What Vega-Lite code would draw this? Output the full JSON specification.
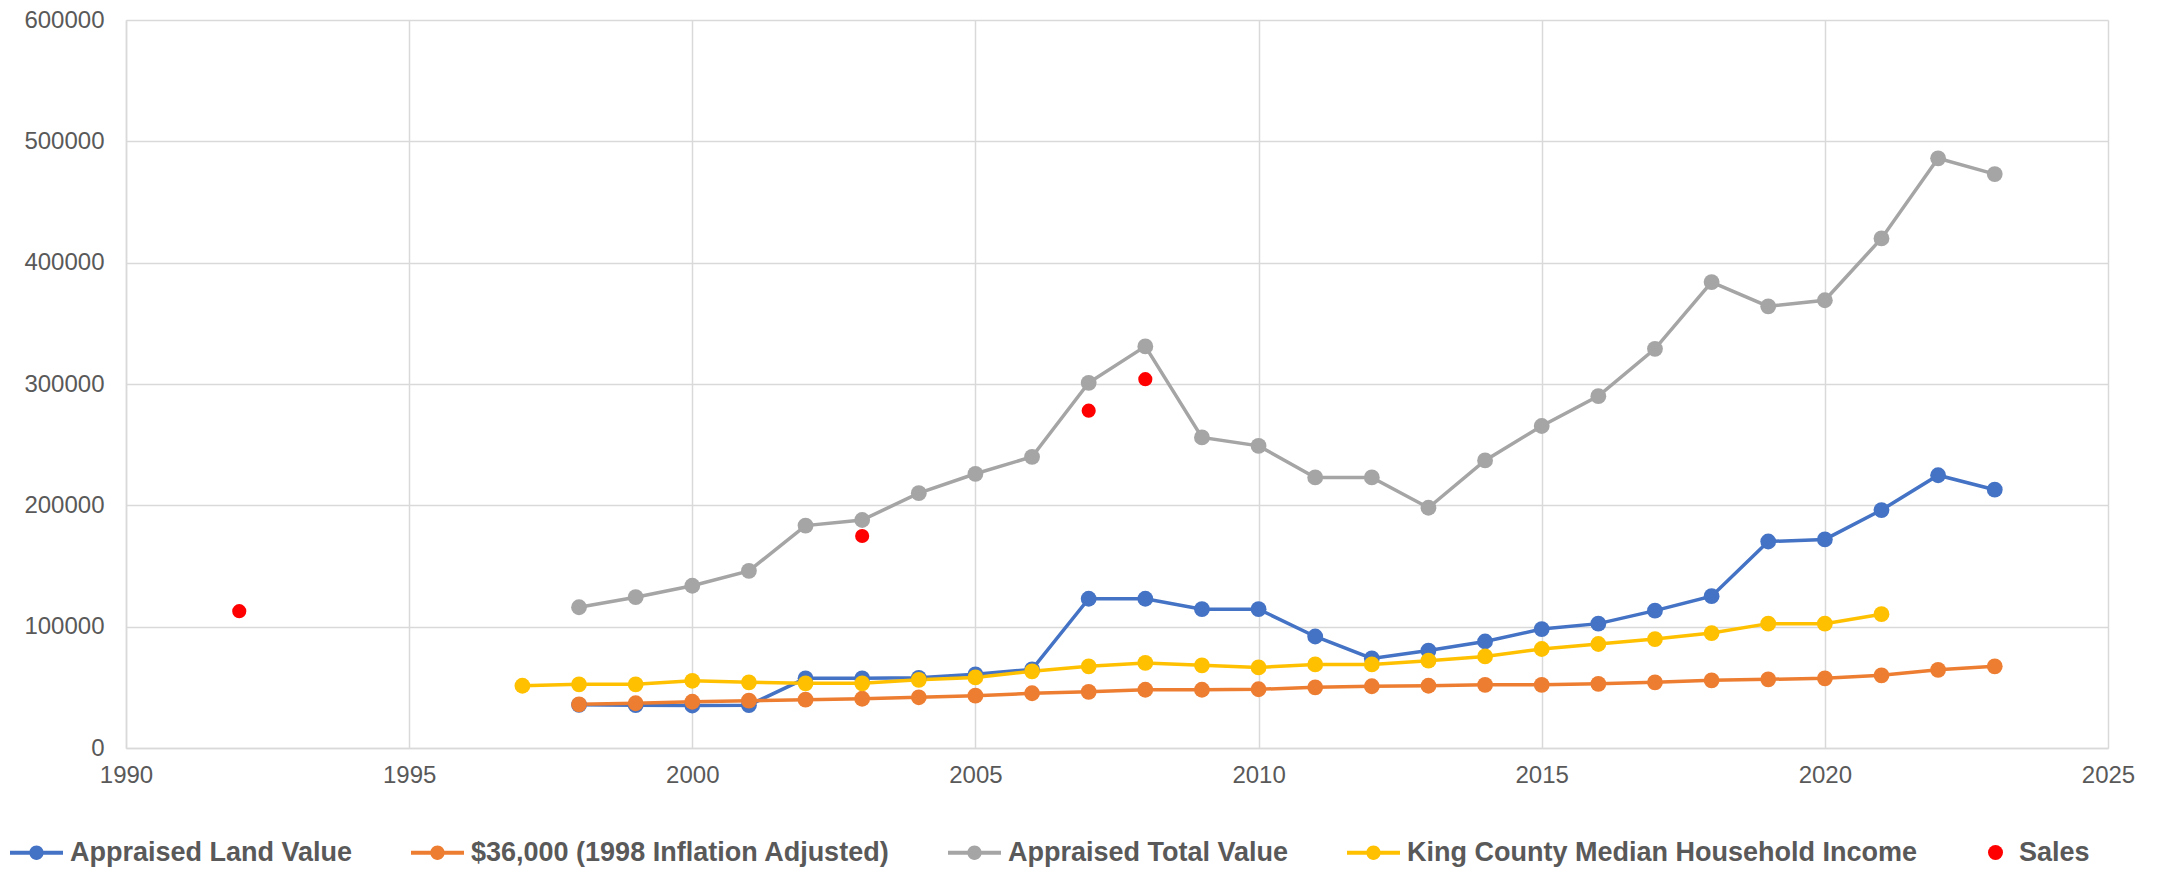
{
  "$schema": "https://vega.github.io/schema/vega-lite/v6.json",
  "width": 1982,
  "height": 728,
  "autosize": {"type": "none"},
  "padding": {"left": 126, "top": 20, "right": 51, "bottom": 121},
  "background": "white",
  "config": {
    "view": {"stroke": null},
    "font": "Liberation Sans",
    "axis": {
      "domainColor": "#D9D9D9",
      "domainWidth": 1.5,
      "gridColor": "#D9D9D9",
      "gridWidth": 1.5,
      "tickSize": 0,
      "labelColor": "#595959",
      "labelFontSize": 24,
      "labelFont": "Liberation Sans",
      "labelFlush": false,
      "title": null
    },
    "legend": {"padding": 0}
  },
  "datasets": {
    "series": [
      {"series": "Appraised Land Value", "year": 1998, "value": 35600},
      {"series": "Appraised Land Value", "year": 1999, "value": 35300},
      {"series": "Appraised Land Value", "year": 2000, "value": 35000},
      {"series": "Appraised Land Value", "year": 2001, "value": 35300},
      {"series": "Appraised Land Value", "year": 2002, "value": 57400},
      {"series": "Appraised Land Value", "year": 2003, "value": 57400},
      {"series": "Appraised Land Value", "year": 2004, "value": 57800},
      {"series": "Appraised Land Value", "year": 2005, "value": 60700},
      {"series": "Appraised Land Value", "year": 2006, "value": 64800},
      {"series": "Appraised Land Value", "year": 2007, "value": 123000},
      {"series": "Appraised Land Value", "year": 2008, "value": 123000},
      {"series": "Appraised Land Value", "year": 2009, "value": 114400},
      {"series": "Appraised Land Value", "year": 2010, "value": 114400},
      {"series": "Appraised Land Value", "year": 2011, "value": 91900},
      {"series": "Appraised Land Value", "year": 2012, "value": 73800},
      {"series": "Appraised Land Value", "year": 2013, "value": 80300},
      {"series": "Appraised Land Value", "year": 2014, "value": 87800},
      {"series": "Appraised Land Value", "year": 2015, "value": 98000},
      {"series": "Appraised Land Value", "year": 2016, "value": 102500},
      {"series": "Appraised Land Value", "year": 2017, "value": 113200},
      {"series": "Appraised Land Value", "year": 2018, "value": 125100},
      {"series": "Appraised Land Value", "year": 2019, "value": 170200},
      {"series": "Appraised Land Value", "year": 2020, "value": 171900},
      {"series": "Appraised Land Value", "year": 2021, "value": 196100},
      {"series": "Appraised Land Value", "year": 2022, "value": 224800},
      {"series": "Appraised Land Value", "year": 2023, "value": 212900},
      {"series": "$36,000 (1998 Inflation Adjusted)", "year": 1998, "value": 36000},
      {"series": "$36,000 (1998 Inflation Adjusted)", "year": 1999, "value": 36900},
      {"series": "$36,000 (1998 Inflation Adjusted)", "year": 2000, "value": 38100},
      {"series": "$36,000 (1998 Inflation Adjusted)", "year": 2001, "value": 39000},
      {"series": "$36,000 (1998 Inflation Adjusted)", "year": 2002, "value": 39800},
      {"series": "$36,000 (1998 Inflation Adjusted)", "year": 2003, "value": 40600},
      {"series": "$36,000 (1998 Inflation Adjusted)", "year": 2004, "value": 41800},
      {"series": "$36,000 (1998 Inflation Adjusted)", "year": 2005, "value": 43100},
      {"series": "$36,000 (1998 Inflation Adjusted)", "year": 2006, "value": 45100},
      {"series": "$36,000 (1998 Inflation Adjusted)", "year": 2007, "value": 46300},
      {"series": "$36,000 (1998 Inflation Adjusted)", "year": 2008, "value": 48000},
      {"series": "$36,000 (1998 Inflation Adjusted)", "year": 2009, "value": 48000},
      {"series": "$36,000 (1998 Inflation Adjusted)", "year": 2010, "value": 48400},
      {"series": "$36,000 (1998 Inflation Adjusted)", "year": 2011, "value": 50000},
      {"series": "$36,000 (1998 Inflation Adjusted)", "year": 2012, "value": 50900},
      {"series": "$36,000 (1998 Inflation Adjusted)", "year": 2013, "value": 51300},
      {"series": "$36,000 (1998 Inflation Adjusted)", "year": 2014, "value": 52100},
      {"series": "$36,000 (1998 Inflation Adjusted)", "year": 2015, "value": 52100},
      {"series": "$36,000 (1998 Inflation Adjusted)", "year": 2016, "value": 52900},
      {"series": "$36,000 (1998 Inflation Adjusted)", "year": 2017, "value": 54100},
      {"series": "$36,000 (1998 Inflation Adjusted)", "year": 2018, "value": 55800},
      {"series": "$36,000 (1998 Inflation Adjusted)", "year": 2019, "value": 56600},
      {"series": "$36,000 (1998 Inflation Adjusted)", "year": 2020, "value": 57400},
      {"series": "$36,000 (1998 Inflation Adjusted)", "year": 2021, "value": 59900},
      {"series": "$36,000 (1998 Inflation Adjusted)", "year": 2022, "value": 64400},
      {"series": "$36,000 (1998 Inflation Adjusted)", "year": 2023, "value": 67300},
      {"series": "Appraised Total Value", "year": 1998, "value": 116000},
      {"series": "Appraised Total Value", "year": 1999, "value": 124300},
      {"series": "Appraised Total Value", "year": 2000, "value": 133700},
      {"series": "Appraised Total Value", "year": 2001, "value": 146000},
      {"series": "Appraised Total Value", "year": 2002, "value": 183300},
      {"series": "Appraised Total Value", "year": 2003, "value": 187900},
      {"series": "Appraised Total Value", "year": 2004, "value": 210000},
      {"series": "Appraised Total Value", "year": 2005, "value": 226000},
      {"series": "Appraised Total Value", "year": 2006, "value": 240000},
      {"series": "Appraised Total Value", "year": 2007, "value": 301000},
      {"series": "Appraised Total Value", "year": 2008, "value": 331000},
      {"series": "Appraised Total Value", "year": 2009, "value": 256000},
      {"series": "Appraised Total Value", "year": 2010, "value": 249000},
      {"series": "Appraised Total Value", "year": 2011, "value": 223000},
      {"series": "Appraised Total Value", "year": 2012, "value": 223000},
      {"series": "Appraised Total Value", "year": 2013, "value": 198000},
      {"series": "Appraised Total Value", "year": 2014, "value": 237000},
      {"series": "Appraised Total Value", "year": 2015, "value": 265400},
      {"series": "Appraised Total Value", "year": 2016, "value": 290000},
      {"series": "Appraised Total Value", "year": 2017, "value": 329000},
      {"series": "Appraised Total Value", "year": 2018, "value": 384000},
      {"series": "Appraised Total Value", "year": 2019, "value": 364000},
      {"series": "Appraised Total Value", "year": 2020, "value": 369000},
      {"series": "Appraised Total Value", "year": 2021, "value": 420000},
      {"series": "Appraised Total Value", "year": 2022, "value": 486000},
      {"series": "Appraised Total Value", "year": 2023, "value": 473000},
      {"series": "King County Median Household Income", "year": 1997, "value": 51300},
      {"series": "King County Median Household Income", "year": 1998, "value": 52500},
      {"series": "King County Median Household Income", "year": 1999, "value": 52500},
      {"series": "King County Median Household Income", "year": 2000, "value": 55400},
      {"series": "King County Median Household Income", "year": 2001, "value": 54100},
      {"series": "King County Median Household Income", "year": 2002, "value": 53300},
      {"series": "King County Median Household Income", "year": 2003, "value": 53300},
      {"series": "King County Median Household Income", "year": 2004, "value": 56200},
      {"series": "King County Median Household Income", "year": 2005, "value": 58200},
      {"series": "King County Median Household Income", "year": 2006, "value": 63200},
      {"series": "King County Median Household Income", "year": 2007, "value": 67300},
      {"series": "King County Median Household Income", "year": 2008, "value": 70100},
      {"series": "King County Median Household Income", "year": 2009, "value": 68100},
      {"series": "King County Median Household Income", "year": 2010, "value": 66400},
      {"series": "King County Median Household Income", "year": 2011, "value": 68900},
      {"series": "King County Median Household Income", "year": 2012, "value": 68900},
      {"series": "King County Median Household Income", "year": 2013, "value": 72000},
      {"series": "King County Median Household Income", "year": 2014, "value": 75500},
      {"series": "King County Median Household Income", "year": 2015, "value": 81600},
      {"series": "King County Median Household Income", "year": 2016, "value": 85700},
      {"series": "King County Median Household Income", "year": 2017, "value": 89800},
      {"series": "King County Median Household Income", "year": 2018, "value": 94700},
      {"series": "King County Median Household Income", "year": 2019, "value": 102500},
      {"series": "King County Median Household Income", "year": 2020, "value": 102500},
      {"series": "King County Median Household Income", "year": 2021, "value": 110300}
    ],
    "sales": [
      {"series": "Sales", "year": 1992, "value": 112800},
      {"series": "Sales", "year": 2003, "value": 174700},
      {"series": "Sales", "year": 2007, "value": 278000},
      {"series": "Sales", "year": 2008, "value": 304000}
    ]
  },
  "encoding": {
    "x": {
      "field": "year",
      "type": "quantitative",
      "scale": {"domain": [1990, 2025], "nice": false, "zero": false},
      "axis": {"values": [1990, 1995, 2000, 2005, 2010, 2015, 2020, 2025], "format": "d", "labelPadding": 15}
    },
    "y": {
      "field": "value",
      "type": "quantitative",
      "scale": {"domain": [0, 600000], "nice": false},
      "axis": {"values": [0, 100000, 200000, 300000, 400000, 500000, 600000], "format": "d", "labelPadding": 22}
    }
  },
  "layer": [
    {
      "data": {"name": "series"},
      "mark": {"type": "line", "strokeWidth": 3.5},
      "encoding": {
        "color": {
          "field": "series",
          "type": "nominal",
          "sort": null,
          "scale": {
            "domain": ["Appraised Land Value", "$36,000 (1998 Inflation Adjusted)", "Appraised Total Value", "King County Median Household Income"],
            "range": ["#4472C4", "#ED7D31", "#A5A5A5", "#FFC000"]
          },
          "legend": {
            "title": null,
            "orient": "none",
            "direction": "horizontal",
            "columns": 4,
            "legendX": -116,
            "legendY": 806,
            "symbolType": "M-1,-0.075H1V0.075H-1Z M0.27,0A0.27,0.27,0,1,1,-0.27,0A0.27,0.27,0,1,1,0.27,0Z",
            "symbolSize": 2809,
            "symbolStrokeWidth": 0,
            "labelFont": "Liberation Sans",
            "labelFontSize": 27,
            "labelFontWeight": "bold",
            "labelColor": "#595959",
            "labelLimit": 0,
            "labelOffset": 7,
            "columnPadding": 58,
            "encode": {
              "symbols": {"update": {"fill": {"scale": "color", "field": "value"}, "opacity": {"value": 1}}}
            }
          }
        }
      }
    },
    {
      "data": {"name": "series"},
      "mark": {"type": "point", "filled": true, "opacity": 1, "size": 250, "shape": "circle"},
      "encoding": {
        "color": {"field": "series", "type": "nominal", "sort": null}
      }
    },
    {
      "data": {"name": "sales"},
      "mark": {"type": "point", "filled": true, "opacity": 1, "size": 200, "shape": "circle"},
      "encoding": {
        "fill": {
          "field": "series",
          "type": "nominal",
          "scale": {"domain": ["Sales"], "range": ["#FF0000"]},
          "legend": {
            "title": null,
            "orient": "none",
            "legendX": 1856,
            "legendY": 819,
            "symbolType": "circle",
            "symbolSize": 225,
            "symbolStrokeWidth": 0,
            "labelFont": "Liberation Sans",
            "labelFontSize": 27,
            "labelFontWeight": "bold",
            "labelColor": "#595959",
            "labelLimit": 0,
            "labelOffset": 10
          }
        }
      }
    }
  ]
}
